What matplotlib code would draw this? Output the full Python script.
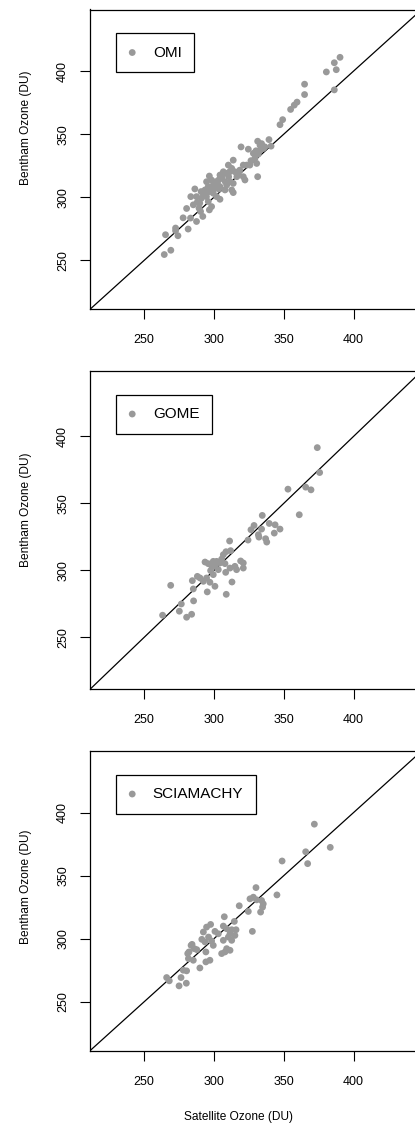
import matplotlib
matplotlib.use("Agg")
import matplotlib.pyplot as plt

plt.rcParams['font.family'] = ['Liberation Sans', 'DejaVu Sans']

# satellite (x) vs Bentham (y) total ozone, DU
omi_sat = [390.3, 386.2, 387.6, 380.5, 386.2, 364.9, 364.9, 359.5, 357.5, 354.9,
           349.2, 347.3, 339.4, 340.9, 331.3, 333.0, 335.3, 324.6, 319.4, 330.1,
           331.7, 329.4, 330.6, 323.4, 321.0, 331.3, 313.8, 310.3, 312.7, 315.0,
           309.1, 306.7, 304.3, 296.7, 301.5, 299.5, 295.9, 293.6, 297.1, 304.3,
           309.1, 312.7, 313.8, 321.0, 322.2, 286.3, 283.4, 287.5, 291.0, 294.6,
           289.8, 295.9, 298.3, 296.7, 304.3, 280.4, 285.2, 289.3, 290.4, 277.9,
           283.2, 292.0, 287.5, 272.5, 272.5, 281.5, 274.2, 265.3, 264.4, 269.1,
           300.7, 303.3, 305.7, 308.1, 310.5, 311.7, 316.4, 307.9, 299.5, 301.9,
           294.4, 290.8, 298.3, 294.7, 313.8, 317.4, 325.7, 328.2, 334.1, 336.5,
           333.0, 302.5, 306.0, 292.5, 288.0, 311.0, 318.5, 326.5, 297.5, 303.5]
omi_ben = [410.9, 406.6, 401.1, 399.3, 385.1, 389.6, 381.4, 375.4, 373.0, 369.6,
           361.5, 357.5, 345.7, 340.5, 344.4, 341.2, 338.6, 338.1, 339.9, 336.8,
           334.2, 331.0, 326.8, 325.5, 325.5, 316.3, 329.4, 325.5, 322.9, 320.2,
           318.9, 320.2, 317.6, 316.8, 312.3, 309.7, 308.4, 305.8, 304.5, 308.4,
           309.7, 305.8, 303.7, 316.3, 313.7, 306.6, 300.5, 300.5, 299.2, 300.5,
           295.3, 296.6, 292.6, 290.0, 298.4, 291.1, 294.0, 291.3, 288.7, 283.7,
           283.5, 284.8, 280.8, 275.6, 273.5, 274.8, 269.5, 270.3, 254.6, 258.0,
           307.1, 313.6, 315.0, 312.3, 316.3, 312.3, 316.3, 305.8, 303.2, 300.5,
           303.2, 304.5, 313.6, 312.3, 311.0, 318.9, 325.5, 334.8, 342.5, 339.9,
           337.3, 310.5, 318.0, 302.0, 296.0, 320.0, 321.5, 329.0, 306.0, 306.5]

gome_sat = [374.0, 375.7, 353.0, 365.7, 369.5, 361.1, 334.6, 339.6, 343.8, 347.3,
            343.2, 337.0, 337.8, 328.7, 334.1, 326.5, 331.8, 332.2, 324.4, 311.2,
            311.9, 308.6, 306.7, 305.5, 301.9, 299.5, 293.6, 295.9, 298.3, 307.9,
            303.1, 297.6, 299.5, 319.1, 321.0, 315.0, 316.2, 311.5, 321.0, 308.4,
            312.9, 294.7, 292.4, 297.1, 290.0, 284.5, 285.2, 295.2, 300.7, 308.8,
            269.0, 285.4, 276.6, 275.2, 263.2, 280.4, 284.0, 300.7, 304.3, 288.1]
gome_ben = [391.6, 373.0, 360.6, 362.1, 360.1, 341.5, 341.0, 335.0, 334.0, 330.8,
            327.8, 323.6, 321.1, 333.5, 330.8, 330.3, 326.6, 324.8, 322.6, 321.9,
            314.7, 313.9, 311.7, 308.4, 306.7, 306.7, 306.2, 305.0, 303.5, 305.0,
            300.5, 299.8, 296.8, 307.0, 305.5, 303.0, 300.5, 301.7, 301.7, 298.5,
            291.3, 294.3, 291.8, 291.1, 294.3, 292.3, 286.1, 283.9, 288.1, 282.1,
            288.8, 277.2, 274.9, 269.5, 266.5, 265.0, 267.2, 303.0, 305.5, 295.5]

scia_sat = [371.9, 383.3, 365.7, 367.1, 348.8, 330.1, 345.1, 325.8, 328.2, 330.6,
            334.1, 335.3, 334.8, 333.4, 318.1, 324.6, 327.5, 307.4, 314.6, 306.7,
            309.1, 312.7, 315.8, 311.5, 315.0, 310.3, 312.7, 297.6, 294.7, 292.4,
            300.7, 303.1, 296.1, 291.3, 293.6, 299.5, 298.3, 306.7, 294.2, 309.1,
            311.5, 305.5, 307.9, 284.3, 285.9, 282.1, 287.7, 281.7, 285.2, 294.2,
            297.1, 289.9, 278.0, 280.4, 266.1, 268.0, 276.4, 275.0, 280.2, 283.6,
            281.2]
scia_ben = [390.8, 372.4, 368.9, 359.5, 361.6, 340.5, 334.7, 331.6, 332.9, 330.8,
            330.3, 327.6, 325.0, 321.1, 326.1, 321.6, 305.8, 317.4, 313.7, 310.0,
            307.9, 307.1, 307.1, 303.9, 302.6, 301.3, 298.7, 311.3, 309.2, 305.3,
            305.8, 303.9, 301.3, 299.5, 297.4, 294.7, 298.2, 298.7, 289.5, 292.1,
            290.8, 288.2, 289.5, 295.5, 292.1, 289.5, 291.3, 284.2, 282.9, 281.6,
            282.9, 276.8, 275.0, 274.5, 269.2, 266.6, 269.2, 262.6, 264.7, 294.7,
            288.2]

names = ['OMI', 'GOME', 'SCIAMACHY']
xs = [omi_sat, gome_sat, scia_sat]
ys = [omi_ben, gome_ben, scia_ben]
ticks = [250, 300, 350, 400]
lims = (211.2, 448.8)

W, H = 415, 1126
fig = plt.figure(figsize=(W / 100, H / 100), dpi=100)

# top / bottom pixel rows of each panel
panels = [(9.5, 309.3), (371, 689.3), (751, 1050.7)]
ylab_pos = [0.605, 0.563, 0.546]
left, width = 90, 331.7
grey = '#999999'

for i in range(3):
    top, bot = panels[i]
    hpx = bot - top
    ax = fig.add_axes([left / W, (H - bot) / H, width / W, hpx / H])
    ax.scatter(xs[i], ys[i], s=24, color=grey, edgecolors='none', label=names[i], zorder=3)
    ax.axline((250, 250), slope=1, color='black', lw=0.9, zorder=2)
    ax.set_xlim(lims)
    ax.set_ylim(lims)
    ax.set_xticks(ticks)
    ax.set_yticks(ticks)
    ax.tick_params(length=7, width=0.8, labelsize=9, pad=11)
    ax.tick_params(axis='y', labelrotation=90, pad=8)
    for t in ax.get_yticklabels():
        t.set_va('center')
    for sp in ax.spines.values():
        sp.set_linewidth(0.9)
    ax.set_ylabel('Bentham Ozone (DU)', fontsize=8.6)
    ax.yaxis.set_label_coords(-0.175, ylab_pos[i])
    leg = ax.legend(loc='upper left', bbox_to_anchor=(0.078, 1 - 23.5 / hpx),
                    borderaxespad=0, fontsize=11, frameon=True, fancybox=False,
                    edgecolor='black', framealpha=1, handlelength=0.5,
                    handletextpad=1.1, borderpad=0.82, scatterpoints=1)
    leg.get_frame().set_linewidth(0.9)
    if i == 2:
        ax.set_xlabel('Satellite Ozone (DU)', fontsize=8.6)
        ax.xaxis.set_label_coords(0.4486, -0.2)

fig.savefig('out.png', dpi=100)
